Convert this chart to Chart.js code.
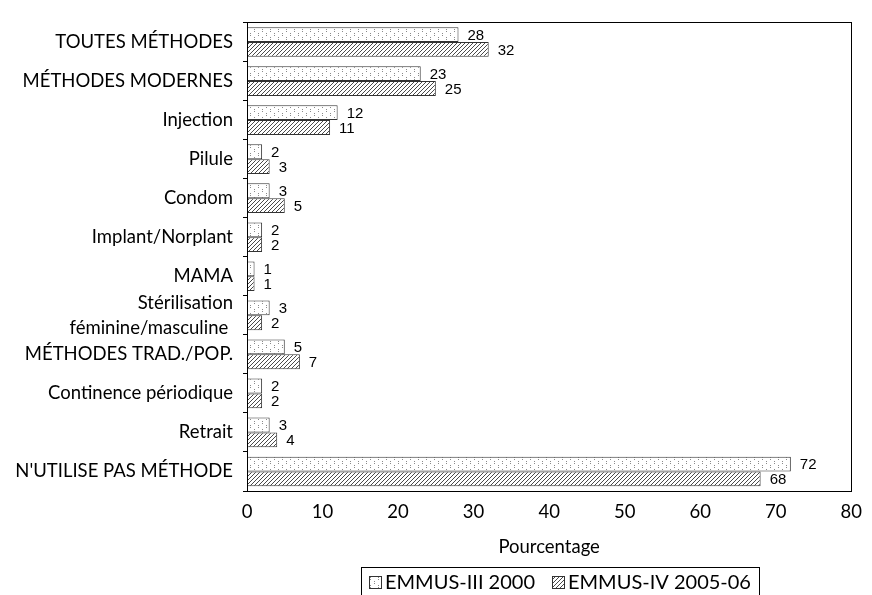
<!DOCTYPE html>
<html>
<head>
<meta charset="utf-8">
<script src="https://cdn.jsdelivr.net/npm/chart.js@4.4.0/dist/chart.umd.min.js"></script>
<style>
  html, body { margin: 0; padding: 0; background: #fff; }
  #wrap { width: 872px; height: 595px; }
</style>
</head>
<body>
<div id="wrap"><canvas id="c" width="872" height="595"></canvas></div>
<script>
const categories = [
  'TOUTES MÉTHODES',
  'MÉTHODES MODERNES',
  'Injection',
  'Pilule',
  'Condom',
  'Implant/Norplant',
  'MAMA',
  ['Stérilisation', 'féminine/masculine '],
  'MÉTHODES TRAD./POP.',
  'Continence périodique',
  'Retrait',
  "N'UTILISE PAS MÉTHODE"
];
const seriesNames = ['EMMUS-III 2000', 'EMMUS-IV 2005-06'];
const emmus3 = [28, 23, 12, 2, 3, 2, 1, 3, 5, 2, 3, 72];
const emmus4 = [32, 25, 11, 3, 5, 2, 1, 2, 7, 2, 4, 68];
const xTicks = [0, 10, 20, 30, 40, 50, 60, 70, 80];
const axisTitle = 'Pourcentage';

const LABEL_FONT = 'Lato, "Open Sans", sans-serif';

function dotPattern() {
  const cv = document.createElement('canvas');
  cv.width = 8; cv.height = 8;
  const g = cv.getContext('2d');
  g.fillStyle = '#ffffff';
  g.fillRect(0, 0, 8, 8);
  g.fillStyle = '#8a8a8a';
  g.fillRect(2, 1, 1, 1);
  g.fillRect(2, 3, 1, 1);
  g.fillRect(6, 5, 1, 1);
  g.fillRect(6, 7, 1, 1);
  return g.createPattern(cv, 'repeat');
}
function hatchPattern() {
  const cv = document.createElement('canvas');
  cv.width = 4; cv.height = 4;
  const g = cv.getContext('2d');
  g.fillStyle = '#ffffff';
  g.fillRect(0, 0, 4, 4);
  g.fillStyle = '#4a4a4a';
  g.fillRect(0, 3, 1, 1);
  g.fillRect(1, 2, 1, 1);
  g.fillRect(2, 1, 1, 1);
  g.fillRect(3, 0, 1, 1);
  return g.createPattern(cv, 'repeat');
}

const frameAndLabels = {
  id: 'frameAndLabels',
  afterDatasetsDraw(chart) {
    const ctx = chart.ctx;
    const a = chart.chartArea;
    ctx.save();
    ctx.strokeStyle = '#000';
    ctx.lineWidth = 1;
    ctx.strokeRect(Math.round(a.left) + 0.5, Math.round(a.top) + 0.5,
                   Math.round(a.right - a.left), Math.round(a.bottom - a.top));
    ctx.font = '15px "Liberation Sans", Arial, sans-serif';
    ctx.fillStyle = '#000';
    ctx.textBaseline = 'middle';
    ctx.textAlign = 'left';
    chart.data.datasets.forEach((ds, di) => {
      const meta = chart.getDatasetMeta(di);
      meta.data.forEach((el, i) => {
        ctx.fillText(String(ds.data[i]), el.x + 9, el.y + 1);
      });
    });
    ctx.restore();
  },
  afterDraw(chart) {
    const ctx = chart.ctx;
    const a = chart.chartArea;
    ctx.save();
    ctx.font = '20px ' + LABEL_FONT;
    const icon = 13, gap = 3, spacing = 17, pad = 8;
    const items = chart.data.datasets.map(ds => ({
      text: ds.label, fill: ds.backgroundColor, stroke: ds.borderColor,
      w: ctx.measureText(ds.label).width
    }));
    let total = 0;
    items.forEach((it, i) => { total += icon + gap + it.w + (i < items.length - 1 ? spacing : 0); });
    const cx = (a.left + a.right) / 2 + 11;
    const boxL = Math.round(cx - total / 2 - pad);
    const boxW = Math.round(total + 2 * pad);
    const boxT = 567;
    const cy = 583;
    ctx.strokeStyle = '#000';
    ctx.lineWidth = 1;
    ctx.strokeRect(boxL + 0.5, boxT + 0.5, boxW, 40);
    let x = boxL + pad;
    ctx.textBaseline = 'middle';
    ctx.textAlign = 'left';
    items.forEach(it => {
      ctx.fillStyle = it.fill;
      ctx.fillRect(x, cy - 7, icon, icon);
      ctx.strokeStyle = it.stroke;
      ctx.strokeRect(x + 0.5, cy - 7 + 0.5, icon - 1, icon - 1);
      x += icon + gap;
      ctx.fillStyle = '#000';
      ctx.fillText(it.text, x, cy);
      x += it.w + spacing;
    });
    ctx.restore();
  }
};

new Chart(document.getElementById('c'), {
  type: 'bar',
  data: {
    labels: categories,
    datasets: [
      {
        label: seriesNames[0],
        data: emmus3,
        backgroundColor: dotPattern(),
        borderColor: '#333',
        borderWidth: 1,
        borderSkipped: false,
        categoryPercentage: 0.76,
        barPercentage: 1.0
      },
      {
        label: seriesNames[1],
        data: emmus4,
        backgroundColor: hatchPattern(),
        borderColor: '#333',
        borderWidth: 1,
        borderSkipped: false,
        categoryPercentage: 0.76,
        barPercentage: 1.0
      }
    ]
  },
  options: {
    indexAxis: 'y',
    responsive: false,
    animation: false,
    devicePixelRatio: 1,
    layout: { padding: { top: 15, right: 14, left: 0, bottom: 34 } },
    plugins: {
      legend: { display: false },
      tooltip: { enabled: false }
    },
    scales: {
      x: {
        min: 0,
        max: 80,
        afterBuildTicks(scale) { scale.ticks = xTicks.map(v => ({ value: v })); },
        afterFit(scale) { scale.height = 70; },
        grid: { display: false, drawTicks: false },
        border: { display: true, color: '#000', width: 1 },
        ticks: {
          font: { family: LABEL_FONT, size: 18.5 },
          color: '#000',
          padding: 10,
          maxRotation: 0
        },
        title: {
          display: true,
          text: axisTitle,
          font: { family: LABEL_FONT, size: 18.5 },
          color: '#000',
          padding: { top: 4, bottom: 3 }
        }
      },
      y: {
        afterFit(scale) { scale.width = 247; },
        grid: { display: true, drawOnChartArea: false, tickLength: 4, color: '#000' },
        border: { display: true, color: '#000', width: 1 },
        ticks: {
          font: { family: LABEL_FONT, size: 18.5, lineHeight: 1.35 },
          color: '#000',
          padding: 10,
          autoSkip: false
        }
      }
    }
  },
  plugins: [frameAndLabels]
});
</script>
</body>
</html>
